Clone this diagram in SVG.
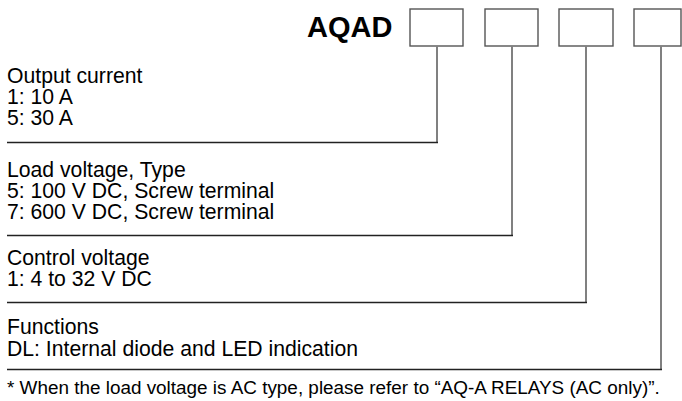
<svg xmlns="http://www.w3.org/2000/svg" width="682" height="401" viewBox="0 0 682 401">
<style>
text{font-family:"Liberation Sans",Arial,sans-serif;fill:#000}
.t{font-size:21.2px}
.f{font-size:18.9px}
.box{fill:#fff;stroke:#555;stroke-width:1.4}
.h{stroke:#222;stroke-width:1.4;fill:none}
.v{stroke:#808080;stroke-width:2;fill:none}
</style>
<rect width="682" height="401" fill="#fff"/>
<g id="title"><text x="307" y="37" font-size="29" font-weight="bold">AQAD</text></g>
<g id="box1"><rect class="box" x="410" y="9" width="53" height="37"/></g>
<g id="box2"><rect class="box" x="485" y="9" width="53" height="37"/></g>
<g id="box3"><rect class="box" x="559" y="9" width="54" height="37"/></g>
<g id="box4"><rect class="box" x="634" y="9" width="47" height="37"/></g>
<g id="connectors">
<path class="v" d="M437 46V143"/>
<path class="h" d="M7 142.5H438"/>
<path class="v" d="M512 46V236"/>
<path class="h" d="M7 235.5H513"/>
<path class="v" d="M586 46V303"/>
<path class="h" d="M7 302.5H587"/>
<path class="v" d="M661 46V370"/>
<path class="h" d="M7 369.5H662"/>
</g>
<g id="output">
<text class="t" x="7" y="83">Output current</text>
<text class="t" x="7" y="104">1: 10 A</text>
<text class="t" x="7" y="125">5: 30 A</text>
</g>
<g id="load">
<text class="t" x="7" y="177">Load voltage, Type</text>
<text class="t" x="7" y="198">5: 100 V DC, Screw terminal</text>
<text class="t" x="7" y="219">7: 600 V DC, Screw terminal</text>
</g>
<g id="control">
<text class="t" x="7" y="265">Control voltage</text>
<text class="t" x="7" y="286">1: 4 to 32 V DC</text>
</g>
<g id="functions">
<text class="t" x="7" y="334">Functions</text>
<text class="t" x="7" y="356">DL: Internal diode and LED indication</text>
</g>
<g id="note"><text class="f" x="7" y="394">* When the load voltage is AC type, please refer to “AQ-A RELAYS (AC only)”.</text></g>
</svg>
